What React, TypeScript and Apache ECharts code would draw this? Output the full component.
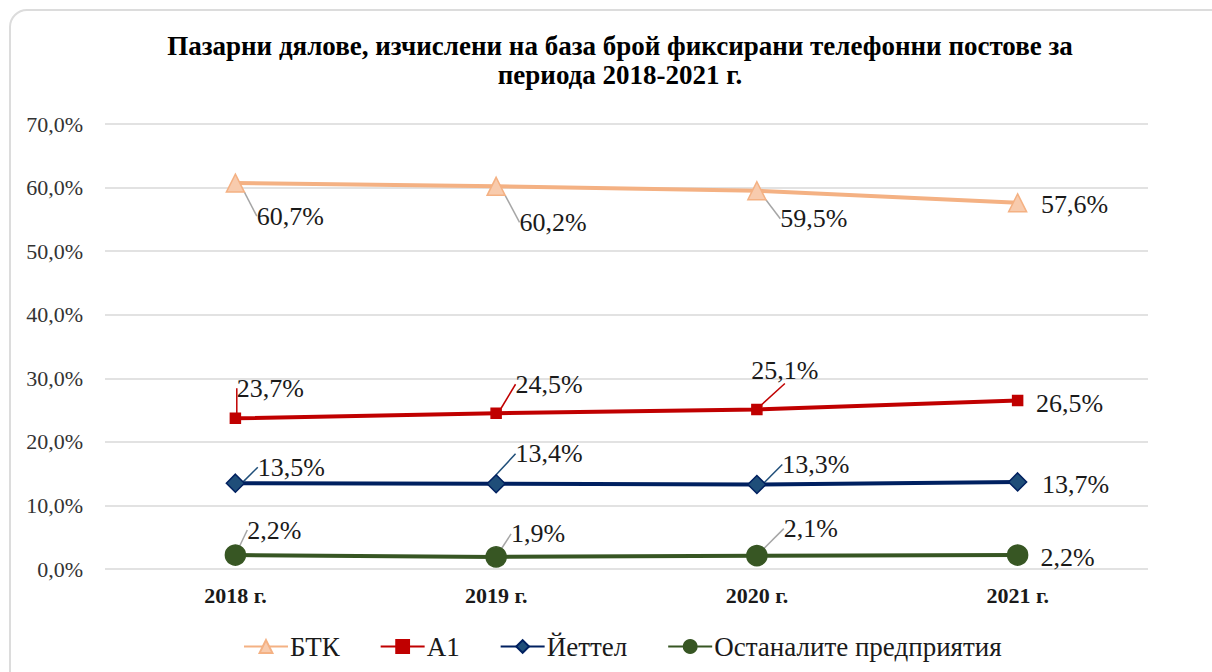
import React, { useEffect, useRef } from "react";
import * as echarts from "echarts";

const categories = ["2018 г.", "2019 г.", "2020 г.", "2021 г."];
const btk = [60.7, 60.2, 59.5, 57.6];
const a1 = [23.7, 24.5, 25.1, 26.5];
const yettel = [13.5, 13.4, 13.3, 13.7];
const others = [2.2, 1.9, 2.1, 2.2];
const seriesNames = ["БТК", "А1", "Йеттел", "Останалите предприятия"];

// label offsets (dx, dy) from each point, in pixels
const btkOff = [[55, 33], [57, 36], [57, 28], [57, 2]];
const a1Off = [[35, -30], [53, -29], [28, -39], [52, 3]];
const yOff = [[56, -16], [53, -30], [59, -20], [58, 3]];
const oOff = [[39, -25], [42, -23], [54, -27], [50, 2]];

const FONT = "Liberation Serif";

export default function App() {
  const ref = useRef<HTMLDivElement>(null);
  useEffect(() => {
    const chart = echarts.init(ref.current!, null, { renderer: "svg" });
    const mk = (
      name: string,
      values: number[],
      color: string,
      symbol: string,
      size: number,
      fill: string,
      off: number[][],
      lineColor: string
    ) => ({
      name,
      type: "line",
      data: values.map((v, i) =>
        i === values.length - 1 ? { value: v, labelLine: { show: false } } : v
      ),
      symbol,
      symbolSize: size,
      lineStyle: { color, width: 4 },
      itemStyle: { color: fill, borderColor: color, borderWidth: 1.5 },
      label: {
        show: true,
        position: "inside",
        formatter: (p: any) => p.value.toFixed(1).replace(".", ",") + "%",
        fontFamily: FONT,
        fontSize: 26,
        color: "#1a1a1a",
      },
      labelLayout: (p: any) => ({ dx: off[p.dataIndex][0], dy: off[p.dataIndex][1] }),
      labelLine: { show: true, lineStyle: { color: lineColor, width: 1.5 } },
      z: 3,
    });
    chart.setOption({
      animation: false,
      textStyle: { fontFamily: FONT },
      title: {
        text: "Пазарни дялове, изчислени на база брой фиксирани телефонни постове за\nпериода 2018-2021 г.",
        left: 615,
        top: 26,
        textAlign: "center",
        textStyle: {
          fontFamily: FONT,
          fontWeight: "bold",
          fontSize: 27,
          lineHeight: 29,
          color: "#000",
        },
      },
      legend: {
        top: 628,
        left: 238,
        itemWidth: 44,
        itemHeight: 16,
        itemGap: 40,
        textStyle: { fontFamily: FONT, fontSize: 27, color: "#1a1a1a", padding: [0, 0, 0, -3] },
        data: seriesNames,
      },
      grid: { left: 105, right: 64, top: 124, bottom: 103 },
      xAxis: {
        type: "category",
        data: categories,
        boundaryGap: true,
        axisLine: { show: false },
        axisTick: { show: false },
        axisLabel: {
          fontFamily: FONT,
          fontWeight: "bold",
          fontSize: 22,
          color: "#1a1a1a",
          margin: 15,
        },
      },
      yAxis: {
        type: "value",
        min: 0,
        max: 70,
        interval: 10,
        axisLabel: {
          formatter: (v: number) => v.toFixed(1).replace(".", ",") + "%",
          fontFamily: FONT,
          fontSize: 22,
          color: "#333",
          margin: 22,
        },
        splitLine: { lineStyle: { color: "#d9d9d9", width: 1.5 } },
      },
      series: [
        mk(seriesNames[0], btk, "#f4b183", "triangle", 18, "#f8cbad", btkOff, "#a6a6a6"),
        mk(seriesNames[1], a1, "#c00000", "rect", 10, "#c00000", a1Off, "#c00000"),
        mk(seriesNames[2], yettel, "#002060", "diamond", 18, "#1f4e79", yOff, "#1f4e79"),
        mk(seriesNames[3], others, "#375623", "circle", 20, "#375623", oOff, "#a6a6a6"),
      ],
    });
    return () => chart.dispose();
  }, []);
  return (
    <div
      style={{
        position: "fixed",
        left: 0,
        top: 0,
        width: 1212,
        height: 672,
        background: "#fff",
      }}
    >
      <div
        style={{
          position: "absolute",
          left: 9,
          top: 9,
          width: 1220,
          height: 700,
          border: "2px solid #dcdcdc",
          borderRadius: 18,
          boxSizing: "border-box",
        }}
      />
      <div ref={ref} style={{ position: "absolute", left: 0, top: 0, width: 1212, height: 672 }} />
    </div>
  );
}
